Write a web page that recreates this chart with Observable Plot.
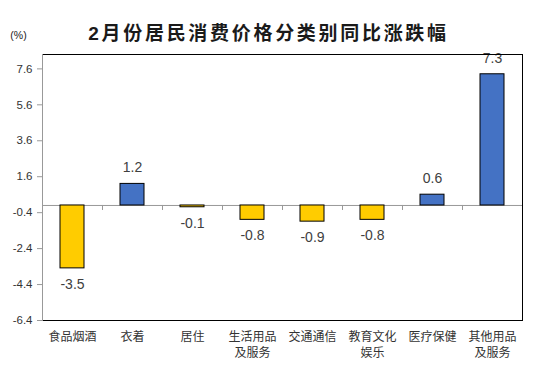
<!DOCTYPE html>
<html>
<head>
<meta charset="utf-8">
<script src="https://cdn.jsdelivr.net/npm/d3@7"></script>
<script src="https://cdn.jsdelivr.net/npm/@observablehq/plot@0.6"></script>
<style>
  html, body { margin: 0; padding: 0; background: #fff; }
  #chart svg { display: block; }
</style>
</head>
<body>
<div id="chart"></div>
<script>
const title = "2月份居民消费价格分类别同比涨跌幅";
const unitLabel = "(%)";
const categories = ["食品烟酒", "衣着", "居住", "生活用品\n及服务", "交通通信", "教育文化\n娱乐", "医疗保健", "其他用品\n及服务"];
const values = [-3.5, 1.2, -0.1, -0.8, -0.9, -0.8, 0.6, 7.3];
const yTicks = [-6.4, -4.4, -2.4, -0.4, 1.6, 3.6, 5.6, 7.6];

const data = categories.map((c, i) => ({cat: c, value: values[i]}));
const pos = data.filter(d => d.value >= 0);
const neg = data.filter(d => d.value < 0);
const font = "'Liberation Sans', Arial, 'Noto Sans CJK SC', sans-serif";
const fmt = d => d.toFixed(1);

const chart = Plot.plot({
  width: 539,
  height: 371,
  marginTop: 54,
  marginLeft: 42,
  marginRight: 17,
  marginBottom: 51,
  style: {fontFamily: font, background: "#fff", color: "#333"},
  x: {domain: categories, padding: 0, axis: null},
  y: {domain: [-6.4, 8.4], axis: null},
  color: {type: "identity"},
  marks: [
    Plot.ruleY([0], {stroke: "#999", strokeWidth: 1}),
    Plot.ruleX(categories.slice(1), {x: d => d, y1: 0, y2: 0, dx: -30, insetBottom: -5, stroke: "#999"}),
    Plot.barY(data, {
      x: "cat", y: "value",
      fill: d => d.value < 0 ? "#FFCC00" : "#4472C4",
      stroke: "black", strokeWidth: 1,
      insetLeft: 18, insetRight: 18
    }),
    Plot.text(pos, {x: "cat", y: "value", text: d => fmt(d.value), dy: -16, fontSize: 14, fill: "#404040"}),
    Plot.text(neg, {x: "cat", y: "value", text: d => fmt(d.value), dy: 16, fontSize: 14, fill: "#404040"}),
    Plot.axisY({ticks: yTicks, tickFormat: fmt, tickSize: 5, tickPadding: 5, fontSize: 11.5, stroke: "#999", fill: "#333", label: null}),
    Plot.frame({anchor: "top", stroke: "black"}),
    Plot.frame({anchor: "right", stroke: "black"}),
    Plot.frame({anchor: "bottom", stroke: "black"}),
    Plot.frame({anchor: "left", stroke: "#999"}),
    Plot.text(categories, {x: d => d, text: d => d, frameAnchor: "bottom", lineAnchor: "top", dy: 9, fontSize: 12, lineHeight: 1.33, fill: "#333"}),
    Plot.text([title], {text: d => d, frameAnchor: "top", dy: -28, dx: -14, fontSize: 19, fontWeight: "bold", fill: "#1a1a1a"}),
    Plot.text([unitLabel], {text: d => d, frameAnchor: "top-left", dx: -24, dy: -23, textAnchor: "middle", fontSize: 10.5, fill: "#222"})
  ]
});
chart.querySelectorAll("text").forEach(t => {
  if (t.textContent === title) t.style.letterSpacing = "2.7px";
});
document.getElementById("chart").append(chart);
</script>
</body>
</html>
